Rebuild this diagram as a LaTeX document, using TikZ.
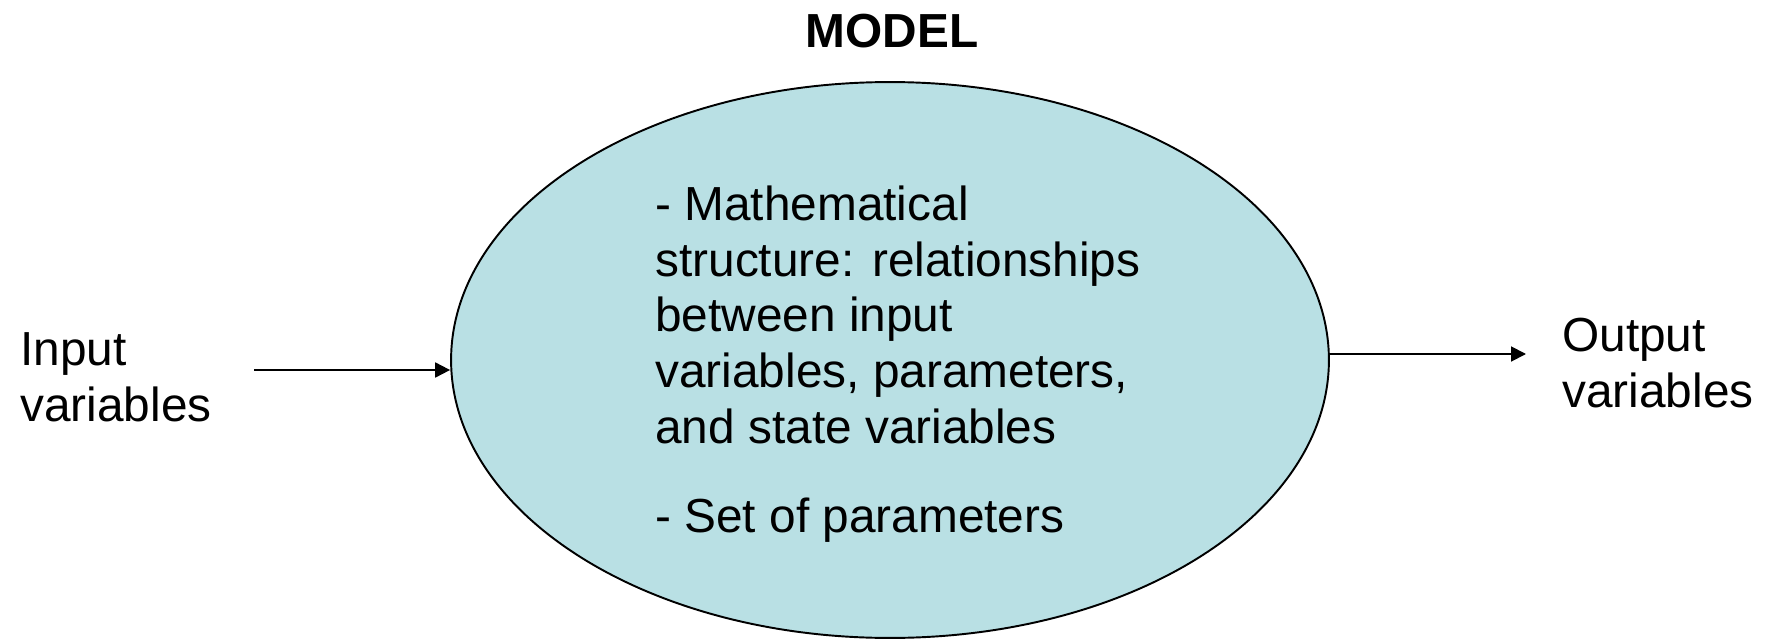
\documentclass[tikz,border=0pt]{standalone}
\usepackage{fontspec}
\setmainfont{Liberation Sans}
\usepackage{tikz}
\usetikzlibrary{arrows.meta, positioning, shapes.geometric}
\definecolor{modelfill}{RGB}{185,224,228}

\begin{document}
\begin{tikzpicture}[>={Triangle[length=8.5pt, width=8.5pt]}, x=0.02cm, y=-0.02cm,
    every node/.style={font=\fontsize{27.2}{31.75}\selectfont, inner sep=0pt},
    label text/.style={align=left, anchor=base west},
    flow/.style={->, line width=1.1pt}]

\useasboundingbox (0,0) rectangle (1765,639);

% 模型
\node[ellipse, draw, line width=1.1pt, fill=modelfill,
      minimum width=17.56cm, minimum height=11.12cm] (model) at (890,360) {};
\node[anchor=base, font=\fontsize{27.2}{31.75}\selectfont\bfseries] (title) at (892,47) {MODEL};
% 最后一行的基线
\node[label text] (desc) at (655,532) {- Mathematical\\structure: relationships\\between input\\variables, parameters,\\and state variables\\[18.7pt]- Set of parameters};

% 输入与输出
\node[label text] (input) at (20,421) {Input\\variables};
\node[label text] (output) at (1562,407) {Output\\variables};

% 箭头
\coordinate (in start) at (254,370);
\coordinate (out end) at (1526,354);
\draw[flow] (in start) -- (in start -| model.west);
\draw[flow] (model.east |- out end) -- (out end);

\end{tikzpicture}
\end{document}
